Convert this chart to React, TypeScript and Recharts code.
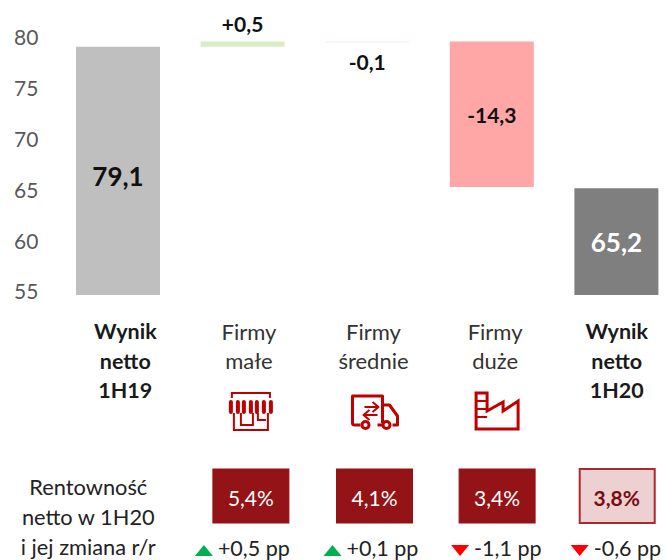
import { Bar, BarChart, Cell, LabelList, XAxis, YAxis } from 'recharts';

const categories = ['Wynik netto 1H19', 'Firmy małe', 'Firmy średnie', 'Firmy duże', 'Wynik netto 1H20'];
const categoryLines = [
  ['Wynik', 'netto', '1H19'],
  ['Firmy', 'małe'],
  ['Firmy', 'średnie'],
  ['Firmy', 'duże'],
  ['Wynik', 'netto', '1H20'],
];
const baseValues = [0, 79.1, 79.5, 65.3, 0];
const barValues = [79.1, 0.5, 0.1, 14.3, 65.2];
const barLabels = ['79,1', '+0,5', '-0,1', '-14,3', '65,2'];
const barColors = ['#bfbfbf', '#d8edc4', '#fde3e3', '#ffa6a6', '#7f7f7f'];
const yTicks = [55, 60, 65, 70, 75, 80];

const margins = ['', '5,4%', '4,1%', '3,4%', '3,8%'];
const marginChanges = ['', '+0,5 pp', '+0,1 pp', '-1,1 pp', '-0,6 pp'];
const marginUp = [false, true, true, false, false];
const marginCaption = ['Rentowność', 'netto w 1H20', 'i jej zmiana r/r'];

const data = categories.map((name, i) => ({ name, base: baseValues[i], value: barValues[i] }));

const FONT = 'Lato, Carlito, sans-serif';
const RED = '#c00000';
const TEXT_OFFSET = [7, 6, 6, 3, 0];
const BOX_OFFSET = [0, 8, 7, 5, 0];
const CHANGE_OFFSET = [0, 0, 5, 10, 10];

function StoreIcon() {
  return (
    <g fill="none" stroke={RED} strokeWidth={2}>
      <path d="M-19 -13 V-18 H19 V-13" />
      <path d="M-17 2 V19 H17 V2" />
      <path d="M-10 2 V14 H2 V2 M7 2 V9 H15" />
      <g strokeWidth={4} strokeLinecap="round">
        {[-20, -13, -7, 0, 6, 13, 20].map((dx) => (
          <path key={dx} d={`M${dx} -9 V1`} />
        ))}
      </g>
    </g>
  );
}

function TruckIcon() {
  return (
    <g fill="none" stroke={RED} strokeWidth={3} strokeLinejoin="round">
      <path d="M-14 14 H-20 Q-22 14 -22 12 V-15 H8 V12 M8 -6 H15 L23 5 V14 H18 M3 14 H8" />
      <circle cx={-9} cy={14} r={3.5} />
      <circle cx={12} cy={14} r={3.5} />
      <path strokeWidth={2} d="M-10 -4 H3 M-2 -9 L4 -4 L-2 1 M3 4 H-10 M-5 -1 L-11 4 L-5 9" />
    </g>
  );
}

function FactoryIcon() {
  return (
    <g fill="none" stroke={RED} strokeWidth={3} strokeLinejoin="miter">
      <path d="M-21 -18 H-10 V0 L6 -9 V0 L21 -10 V18 H-21 Z" />
      <path strokeWidth={2} d="M-21 -10 H-10 M-21 -2 H-10 M-21 6 H-10" />
    </g>
  );
}

const icons = [null, <StoreIcon />, <TruckIcon />, <FactoryIcon />, null];

function CategoryTick({ x, y, payload }: any) {
  const i = payload.index;
  const bold = i === 0 || i === 4;
  const top = 331 - y;
  const bx = BOX_OFFSET[i];
  const cx = CHANGE_OFFSET[i];
  const last = i === 4;
  return (
    <g transform={`translate(${x},${y})`} fontFamily={FONT}>
      {categoryLines[i].map((line, k) => (
        <text
          key={line}
          x={TEXT_OFFSET[i]}
          y={top + k * 29.5}
          textAnchor="middle"
          dominantBaseline="central"
          fontSize={bold ? 21.5 : 22}
          fontWeight={bold ? 700 : 400}
          fill={bold ? '#1a1a1a' : '#333'}
        >
          {line}
        </text>
      ))}
      {icons[i] && <g transform={`translate(${bx},${411 - y})`}>{icons[i]}</g>}
      {i === 0 &&
        marginCaption.map((line, k) => (
          <text
            key={line}
            x={-30}
            y={486 - y + k * 30}
            textAnchor="middle"
            dominantBaseline="central"
            fontSize={21.8}
            fill="#222"
          >
            {line}
          </text>
        ))}
      {margins[i] && (
        <g transform={`translate(${bx},0)`}>
          <rect
            x={last ? -37 : -38}
            y={469 - y}
            width={last ? 75 : 76}
            height={54}
            fill={last ? '#ecd0d2' : '#931316'}
            stroke={last ? '#a82a2c' : '#931316'}
            strokeWidth={last ? 2 : 1}
          />
          <text
            x={0}
            y={497 - y}
            textAnchor="middle"
            dominantBaseline="central"
            fontSize={21}
            fontWeight={last ? 700 : 400}
            fill={last ? '#7a0c10' : '#fff'}
          >
            {margins[i]}
          </text>
          <g transform={`translate(${cx},0)`}>
            <path
              d={
                marginUp[i]
                  ? `M-56 ${556 - y} L-47 ${545 - y} L-38 ${556 - y} Z`
                  : `M-47 ${556 - y} L-56 ${545 - y} L-38 ${545 - y} Z`
              }
              fill={marginUp[i] ? '#00b050' : '#ff0000'}
            />
            <text x={-33} y={548 - y} dominantBaseline="central" fontSize={21.5} fill="#222">
              {marginChanges[i]}
            </text>
          </g>
        </g>
      )}
    </g>
  );
}

function BarValueLabel({ x, y, width, height, index }: any) {
  const big = index === 0 || index === 4;
  let ty = y + height / 2;
  if (index === 0) ty += 5;
  if (index === 1) ty = y - 18;
  if (index === 2) ty = y + 20;
  return (
    <text
      x={x + width / 2}
      y={ty}
      textAnchor="middle"
      dominantBaseline="central"
      fontFamily={FONT}
      fontSize={big ? 26 : 21}
      fontWeight={700}
      fill={index === 4 ? '#fff' : '#111'}
    >
      {barLabels[index]}
    </text>
  );
}

export default function App() {
  return (
    <div style={{ position: 'absolute', left: 0, top: 0, width: 665, height: 560, overflow: 'hidden' }}>
      <BarChart
        width={690}
        height={560}
        data={data}
        barSize={84}
        margin={{ top: 8, right: 11, left: 0, bottom: 0 }}
      >
        <XAxis
          dataKey="name"
          axisLine={false}
          tickLine={false}
          height={265}
          interval={0}
          tick={<CategoryTick />}
        />
        <YAxis
          type="number"
          domain={[54.7, 82.9]}
          ticks={yTicks}
          allowDataOverflow
          width={56}
          axisLine={false}
          tickLine={false}
          tick={{ fontSize: 21, fill: '#595959', fontFamily: FONT, textAnchor: 'start', dx: -34 }}
        />
        <Bar dataKey="base" stackId="a" fill="transparent" isAnimationActive={false} />
        <Bar dataKey="value" stackId="a" isAnimationActive={false}>
          {barColors.map((c) => (
            <Cell key={c} fill={c} />
          ))}
          <LabelList dataKey="value" content={<BarValueLabel />} />
        </Bar>
      </BarChart>
    </div>
  );
}
